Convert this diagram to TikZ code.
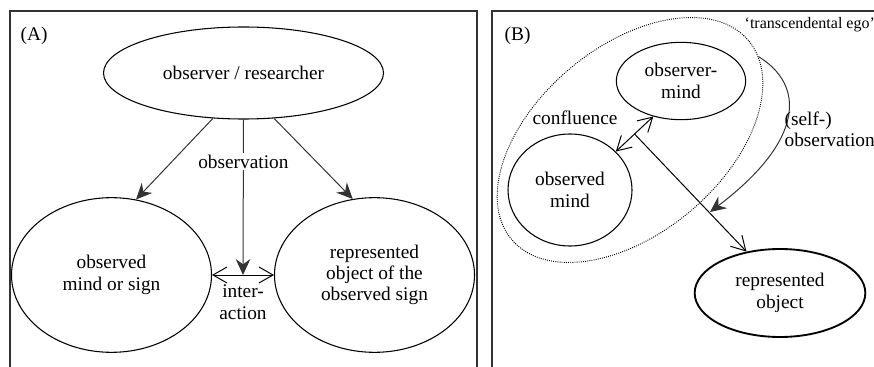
\documentclass[tikz,border=0pt]{standalone}
\usepackage{fontspec}
\setmainfont{Liberation Serif}
\usetikzlibrary{shapes.geometric,arrows.meta,positioning}
\definecolor{linegray}{HTML}{333333}
\begin{document}
\begin{tikzpicture}[
      x=0.75pt, y=-0.75pt,
      every node/.style={font=\fontsize{14.5}{16}\selectfont},
      bubble/.style={draw, ellipse, inner sep=0pt, align=center, line width=0.8pt}, % nodes of the two schemes
      observe/.style={draw=linegray, line width=0.75pt, -{Stealth[length=12pt, width=11pt, inset=4pt]}},
      interact/.style={line width=0.75pt, {Straight Barb[length=10.5pt, width=12pt]}-{Straight Barb[length=10.5pt, width=12pt]}},
      reach/.style={line width=0.75pt, -{Straight Barb[length=10.5pt, width=12pt]}},
      egoline/.style={draw, line width=0.7pt, dash pattern=on 0.7pt off 0.9pt},
      panel/.style={draw=linegray, line width=0.9pt}
    ]
    \useasboundingbox (0,0) rectangle (874,367);
    % Frames of the two panels
    \draw[panel] (10,367) -- (10,11) -- (477,11) -- (477,367);
    \draw[panel] (492,367) -- (492,11) -- (874,11);

    % (A) classical scheme
    \node [anchor=west] (labA) at (16,36) {(A)};
    \node [bubble, minimum width=210pt, minimum height=69pt] (researcher) at (243.5,73) {observer / researcher};
    \node [bubble, minimum width=150pt, minimum height=116pt] (mindA) at (111.5,275) {observed\\mind or sign};
    \node [bubble, minimum width=150pt, minimum height=116pt] (objectA) at (374.5,275) {represented\\object of the\\observed sign};
    \path (mindA.east) -- coordinate[midway] (meet) (objectA.west);
    \draw[observe] (researcher.236) -- (mindA.72);
    \draw[observe] (researcher.304) -- (objectA.106);
    \draw[observe] (researcher.south) -- node[pos=0.27, fill=white, inner sep=1pt] (obslabel) {observation} (meet);
    \draw[interact] (mindA.east) -- (objectA.west);
    \node [below=4pt of meet, align=center] (interlabel) {inter-\\action};

    % (B) confluence scheme
    \node [anchor=west] (labB) at (500,36) {(B)};
    \node [bubble, minimum width=97pt, minimum height=58pt] (observer) at (681,81) {observer-\\mind};
    \node [bubble, minimum width=93pt, minimum height=84pt] (observed) at (570,190) {observed\\mind};
    \node [bubble, line width=1.4pt, minimum width=128pt, minimum height=66pt] (object) at (780,293) {represented\\object};
    \node [egoline, ellipse, rotate=40, inner sep=0pt, minimum width=232pt, minimum height=140pt] (ego) at (630,140) {};
    \node [anchor=west, font=\fontsize{12}{14}\selectfont] (egolabel) at (740,25) {‘transcendental ego’};
    \path (observed.40) -- coordinate[midway] (conf) (observer.232);
    \draw[interact] (observed.40) -- (observer.232);
    \node (conflabel) at (575,118) {confluence};
    \draw[reach] (conf) -- (object.129);
    \coordinate (selfend) at (710,212);
    \draw[observe] (ego.-7) .. controls (805,85) and (805,140) .. (selfend);
    \node [anchor=west, align=left, inner sep=1pt] (selflabel) at (783,129) {(self-)\\observation};
\end{tikzpicture}
\end{document}
